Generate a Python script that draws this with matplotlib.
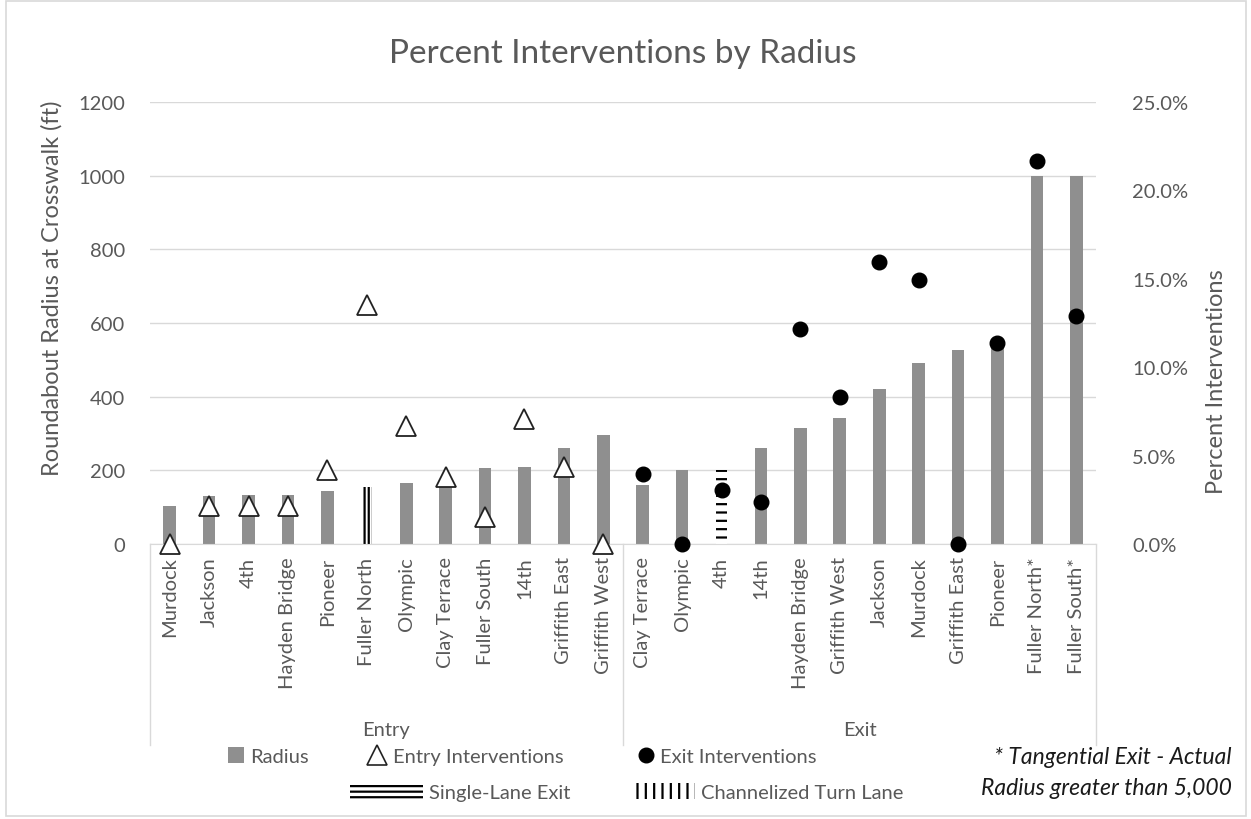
import matplotlib
matplotlib.use("Agg")
import matplotlib.pyplot as plt
from matplotlib.patches import Patch, Rectangle
from matplotlib.lines import Line2D
from matplotlib.ticker import PercentFormatter
import numpy as np

plt.rcParams['font.family'] = ['Lato', 'DejaVu Sans']
plt.rcParams['hatch.linewidth'] = 1.6

# données
entry_names = ["Murdock", "Jackson", "4th", "Hayden Bridge", "Pioneer", "Fuller North",
               "Olympic", "Clay Terrace", "Fuller South", "14th", "Griffith East", "Griffith West"]
exit_names = ["Clay Terrace", "Olympic", "4th", "14th", "Hayden Bridge", "Griffith West",
              "Jackson", "Murdock", "Griffith East", "Pioneer", "Fuller North*", "Fuller South*"]

entry_radius = [104, 131, 134, 134, 145, 155, 166, 158, 206, 209, 261, 295]
exit_radius = [161, 202, 200, 261, 315, 342, 422, 491, 526, 535, 1000, 1000]

# "" = barre normale, "channelized" / "single" = barre hachurée
entry_lane = ["", "", "", "", "", "channelized", "", "", "", "", "", ""]
exit_lane = ["", "", "single", "", "", "", "", "", "", "", "", ""]

entry_pct = [0.0, 2.13, 2.13, 2.13, 4.2, 13.5, 6.7, 3.8, 1.55, 7.07, 4.36, 0.0]
exit_pct = [3.98, 0.0, 3.03, 2.38, 12.16, 8.29, 15.93, 14.95, 0.0, 11.37, 21.64, 12.87]

GREY = '#8f8f8f'
TXT = '#595959'
GRID = '#d9d9d9'
FS = 14.5
FS_LAB = 17

names = entry_names + exit_names
radius = entry_radius + exit_radius
lanes = entry_lane + exit_lane
x = np.arange(len(names))
x_entry = x[:len(entry_names)]
x_exit = x[len(entry_names):]

fig = plt.figure(figsize=(12.51, 8.2), dpi=100)
ax = fig.add_axes([150/1251, 1-545/820, 946/1251, 442/820])

hatch_map = {"channelized": "||||", "single": "--"}
for xi, r, l in zip(x, radius, lanes):
    if l == "":
        ax.bar(xi, r, width=0.32, color=GREY, zorder=2)
    else:
        ax.bar(xi, r, width=0.26, facecolor='white', edgecolor='black', linewidth=0,
               hatch=hatch_map[l], zorder=2)

ax.set_xlim(-0.5, len(names)-0.5)
ax.set_ylim(0, 1200)
ax.set_yticks(range(0, 1201, 200))
ax.yaxis.grid(True, color=GRID, linewidth=1, zorder=0)
ax.set_axisbelow(True)
for s in ['top', 'right', 'left']:
    ax.spines[s].set_visible(False)
ax.spines['bottom'].set_color(GRID)
ax.tick_params(axis='y', length=0, pad=18, labelsize=FS, labelcolor=TXT)
ax.set_xticks(x)
ax.set_xticklabels(names, rotation=90, fontsize=FS, color=TXT)
ax.tick_params(axis='x', length=0, pad=9)

ax.set_ylabel("Roundabout Radius at Crosswalk (ft)", fontsize=FS_LAB, color=TXT)
ax.yaxis.set_label_coords(-0.092, 0.58)

# séparateurs de groupes et étiquettes Entry / Exit
for xb in [-0.5, len(entry_names)-0.5, len(names)-0.5]:
    ax.plot([xb, xb], [0, -0.455], color=GRID, linewidth=1,
            transform=ax.get_xaxis_transform(), clip_on=False)
ax.text(np.mean(x_entry), -0.42, "Entry", transform=ax.get_xaxis_transform(),
        ha='center', va='center', fontsize=FS, color=TXT)
ax.text(np.mean(x_exit), -0.42, "Exit", transform=ax.get_xaxis_transform(),
        ha='center', va='center', fontsize=FS, color=TXT)

# axe secondaire : pourcentages
ax2 = ax.twinx()
ax2.set_ylim(0, 25)
ax2.set_yticks(range(0, 26, 5))
ax2.yaxis.set_major_formatter(PercentFormatter(decimals=1))
for s in ax2.spines.values():
    s.set_visible(False)
ax2.tick_params(axis='y', length=0, pad=26, labelsize=FS, labelcolor=TXT)
ax2.plot(x_entry, entry_pct, linestyle='none', marker='^', markersize=15,
         markerfacecolor='white', markeredgecolor='#222222', markeredgewidth=1.3, clip_on=False)
ax2.plot(x_exit, exit_pct, linestyle='none', marker='o', markersize=10.5,
         color='black', clip_on=False)
ax2.set_ylabel("Percent Interventions", fontsize=FS_LAB, color=TXT)
ax2.yaxis.set_label_coords(1.116, 0.37)

ax.set_title("Percent Interventions by Radius", fontsize=24, color=TXT, pad=29)

# légende (une entrée par position)
legend_items = [
    (Patch(facecolor=GREY, edgecolor='none'), "Radius", 228, 757, 0.8),
    (Line2D([], [], linestyle='none', marker='^', markersize=15, markerfacecolor='white',
            markeredgecolor='#222222', markeredgewidth=1.2), "Entry Interventions", 367, 757, 1.0),
    (Line2D([], [], linestyle='none', marker='o', markersize=10.5, color='black'),
     "Exit Interventions", 638, 757, 0.8),
    (Patch(facecolor='white', edgecolor='black', linewidth=0, hatch='---'),
     "Single-Lane Exit", 350, 793, 3.6),
    (Patch(facecolor='white', edgecolor='black', linewidth=0, hatch='||'),
     "Channelized Turn Lane", 631, 793, 3.2),
]
for h, lab, px, py, hl in legend_items:
    fig.legend([h], [lab], loc='center left', bbox_to_anchor=(px/1251, 1-py/820),
               frameon=False, fontsize=FS, labelcolor=TXT, handlelength=hl,
               handleheight=0.8, handletextpad=0.3, borderpad=0, borderaxespad=0)

fig.text(1232/1251, 1-773/820, "* Tangential Exit - Actual\nRadius greater than 5,000",
         ha='right', va='center', ma='right', style='italic', fontsize=16.5,
         color='#1a1a1a', linespacing=1.6)

fig.patches.append(Rectangle((0.005, 0.004), 0.991, 0.993, transform=fig.transFigure,
                             fill=False, edgecolor=GRID, linewidth=1.2))

fig.savefig("out.png", dpi=100)
